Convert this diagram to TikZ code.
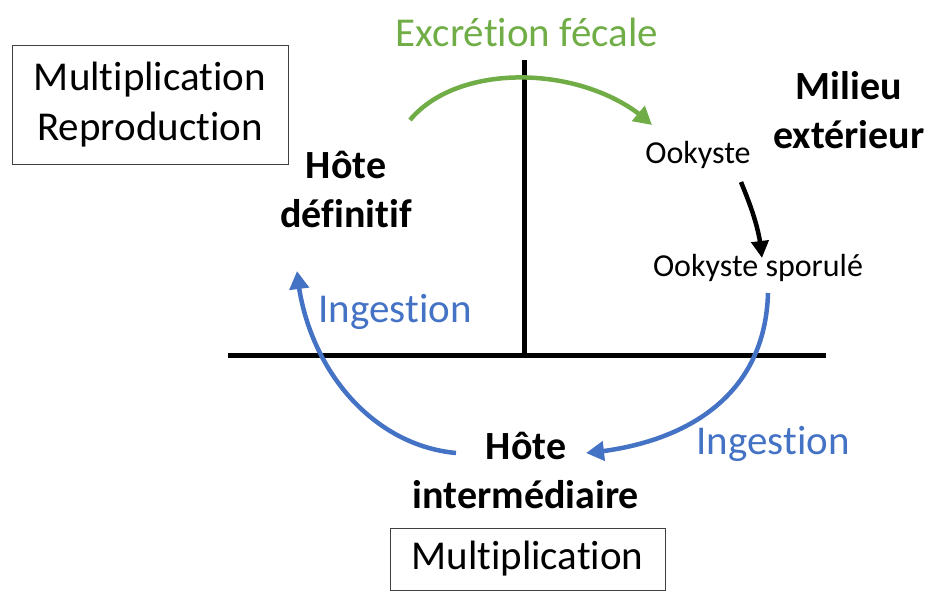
\documentclass[tikz,border=0pt]{standalone}
\usepackage{fontspec}
\setmainfont{Carlito}[Ligatures=NoCommon,RawFeature={-liga;-calt;-dlig}]
\usepackage{tikz}
\usetikzlibrary{arrows.meta,bending,positioning}
\definecolor{cyblue}{HTML}{4472C4}
\definecolor{cygreen}{HTML}{70AD47}
\definecolor{cyframe}{HTML}{404040}
\tikzset{
  framebox/.style={rectangle,draw=cyframe,line width=1pt,inner sep=0pt,
                   align=center,font=\fontsize{41}{50}\selectfont,text=black},
  host/.style={align=center,font=\fontsize{40}{49}\selectfont\bfseries,text=black},
  stagetxt/.style={font=\fontsize{32}{38}\selectfont,text=black},
  flowtxt/.style={font=\fontsize{41}{50}\selectfont},
  axisline/.style={line width=5pt,draw=black},
  greenflow/.style={-{Triangle[length=18pt,width=19pt]},line width=4.5pt,draw=cygreen},
  blueflow/.style={-{Triangle[length=18pt,width=19pt]},line width=4.5pt,draw=cyblue},
  blackflow/.style={-{Triangle[length=17pt,width=17pt]},line width=4.5pt,draw=black},
}

\begin{document}
\begin{tikzpicture}[x=1pt,y=-1pt]
\useasboundingbox (0,0) rectangle (933,592);

% axes
\coordinate (vtop) at (524,60);
\coordinate (vbot) at (524,357);
\coordinate (hleft) at (228,355);
\coordinate (hright) at (826,355);
\draw[axisline] (vtop) -- (vbot);
\draw[axisline] (hleft) -- (hright);

% boxes and labels
\node[framebox,minimum width=276,minimum height=119] (multrep) at (150,104.5)
  {Multiplication\\Reproduction};
\node[framebox,minimum width=275,minimum height=62] (mult) at (527.5,559)
  {Multiplication};
\node[host] (hotedef) at (346,189) {Hôte\\définitif};
\node[host] (milieu) at (849,110) {Milieu\\extérieur};
\node[host] (hoteint) at (526,470) {Hôte\\intermédiaire};
\node[stagetxt] (ookyste) at (698,155) {Ookyste};
\node[stagetxt] (sporule) at (758,268) {Ookyste sporulé};
\node[flowtxt,text=cygreen] (excretion) at (527,32) {Excrétion fécale};
\node[flowtxt,text=cyblue] (ingleft) at (395,312) {Ingestion};
\node[flowtxt,text=cyblue] (ingright) at (773,444) {Ingestion};

% arrow ends
\coordinate (gstart) at (410,120);
\coordinate (gend) at (652,125);
\coordinate (kstart) at (741,182);
\coordinate (kend) at (762,258);
\coordinate (brstart) at (768,293);
\coordinate (brend) at (586,453);
\coordinate (blstart) at (456,453);
\coordinate (blend) at (297,271);

\draw[greenflow] (gstart) .. controls (460,60) and (590,65) .. (gend);
\draw[blackflow] (kstart) .. controls (749,202) and (760,228) .. (kend);
\draw[blueflow] (brstart) .. controls (765,400) and (680,445) .. (brend);
\draw[blueflow] (blstart) .. controls (370,445) and (305,365) .. (blend);
\end{tikzpicture}
\end{document}
